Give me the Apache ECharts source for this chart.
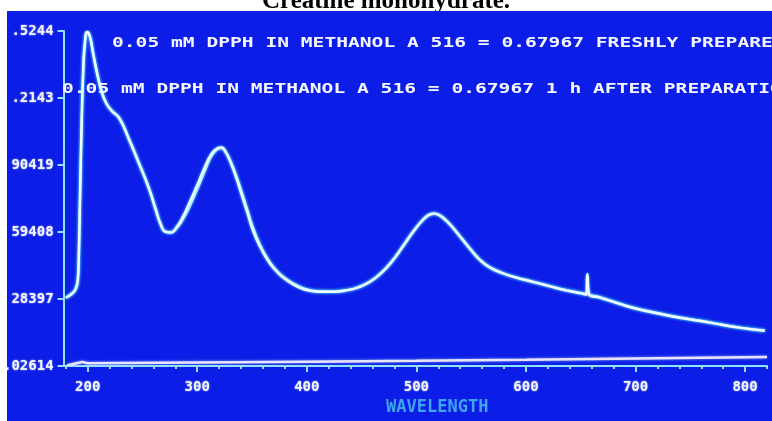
<!DOCTYPE html>
<html>
<head>
<meta charset="utf-8">
<script src="https://cdn.jsdelivr.net/npm/echarts@6/dist/echarts.min.js"></script>
<style>
  html, body { margin: 0; padding: 0; background: #ffffff; }
  #chart { width: 772px; height: 421px; }
</style>
</head>
<body>
<div id="chart"></div>
<script>
// Absorption spectra of DPPH in methanol (wavelength in nm, absorbance)
const wavelength = [180, 186, 189, 191, 192, 193, 194.5, 196, 197.5, 199.5, 202, 205, 209, 213, 217, 222, 229, 238, 247, 256, 262, 267, 271, 276, 281, 287, 293, 300, 307, 313, 318, 322, 326, 331, 336, 341, 346, 351, 357, 363, 370, 378, 388, 398, 410, 423, 435, 447, 458, 468, 478, 488, 497, 505, 511, 516, 521, 527, 534, 542, 550, 558, 567, 578, 590, 605, 620, 635, 650, 655, 656, 658, 668, 683, 698, 713, 727, 743, 759, 773, 786, 800, 812, 818];
const freshlyPrepared = [0.29, 0.31, 0.33, 0.37, 0.50, 0.75, 1.10, 1.35, 1.47, 1.52, 1.50, 1.42, 1.32, 1.24, 1.19, 1.155, 1.12, 1.02, 0.91, 0.795, 0.70, 0.625, 0.595, 0.592, 0.615, 0.665, 0.73, 0.81, 0.895, 0.955, 0.980, 0.985, 0.965, 0.91, 0.84, 0.76, 0.68, 0.60, 0.53, 0.475, 0.425, 0.385, 0.35, 0.328, 0.318, 0.317, 0.323, 0.338, 0.365, 0.405, 0.46, 0.53, 0.595, 0.645, 0.672, 0.68, 0.672, 0.648, 0.61, 0.56, 0.51, 0.465, 0.43, 0.405, 0.385, 0.365, 0.345, 0.325, 0.31, 0.305, 0.40, 0.302, 0.29, 0.265, 0.242, 0.225, 0.21, 0.195, 0.182, 0.17, 0.158, 0.148, 0.14, 0.137];
const oneHourAfter = [0.29, 0.31, 0.33, 0.37, 0.50, 0.75, 1.10, 1.35, 1.47, 1.52, 1.50, 1.42, 1.32, 1.24, 1.19, 1.155, 1.12, 1.02, 0.91, 0.795, 0.70, 0.625, 0.595, 0.592, 0.610, 0.652, 0.71, 0.79, 0.875, 0.945, 0.975, 0.982, 0.962, 0.915, 0.85, 0.775, 0.695, 0.615, 0.54, 0.482, 0.43, 0.39, 0.356, 0.333, 0.321, 0.319, 0.324, 0.339, 0.366, 0.405, 0.46, 0.53, 0.595, 0.645, 0.672, 0.68, 0.672, 0.648, 0.61, 0.56, 0.51, 0.465, 0.43, 0.405, 0.385, 0.365, 0.347, 0.328, 0.313, 0.307, 0.306, 0.304, 0.292, 0.268, 0.245, 0.227, 0.212, 0.197, 0.184, 0.171, 0.159, 0.149, 0.141, 0.138];
const blankWavelength = [181, 190, 195, 200, 300, 400, 500, 600, 700, 820];
const blankAbs = [-0.024, -0.013, -0.008, -0.013, -0.010, -0.006, -0.002, 0.003, 0.009, 0.015];

// Axis ticks
const yTickValues = [-0.02614, 0.28397, 0.59408, 0.90419, 1.2143, 1.5244];
const yTickText = ['.02614', '28397', '59408', '90419', '.2143', '.5244'];
const xMajorTicks = [200, 300, 400, 500, 600, 700, 800];
const xMinorTicks = [180, 200, 220, 240, 260, 280, 300, 320, 340, 360, 380, 400, 420, 440, 460, 480, 500, 520, 540, 560, 580, 600, 620, 640, 660, 680, 700, 720, 740, 760, 780, 800, 820];

// Screen annotations
const titleText = 'Creatine monohydrate.';
const noteFresh = '0.05 mM DPPH IN METHANOL A 516 = 0.67967 FRESHLY PREPARED';
const noteAged = '0.05 mM DPPH IN METHANOL A 516 = 0.67967 1 h AFTER PREPARATION';
const axisTitle = 'WAVELENGTH';

const pairs = (xs, ys) => xs.map((x, i) => [x, ys[i]]);

const AXIS = '#8fe4f4';
const LABEL = '#f2f5ff';
const MONO = '"DejaVu Sans Mono", "Liberation Mono", monospace';

const chart = echarts.init(document.getElementById('chart'), null, { renderer: 'canvas' });

chart.setOption({
  backgroundColor: '#ffffff',
  animation: false,
  grid: { left: 61, right: 5, top: 31, bottom: 46, containLabel: false },
  xAxis: [
    {
      type: 'value', min: 178, max: 820,
      axisLine: { onZero: false, lineStyle: { color: AXIS, width: 2 } },
      axisTick: { customValues: xMajorTicks, length: 6, lineStyle: { color: AXIS, width: 2 } },
      axisLabel: {
        customValues: xMajorTicks, margin: 14,
        color: LABEL, fontFamily: MONO, fontWeight: 'bold', fontSize: 14,
        textShadowBlur: 2, textShadowColor: 'rgba(220,230,255,0.8)'
      },
      splitLine: { show: false },
      name: axisTitle, nameLocation: 'middle', nameGap: 33,
      nameTextStyle: { color: '#3fa6f2', fontFamily: MONO, fontWeight: 'bold', fontSize: 17, padding: [0, 0, 0, 44] }
    },
    {
      type: 'value', min: 178, max: 820, position: 'bottom',
      axisLine: { show: false, onZero: false },
      axisTick: { customValues: xMinorTicks, length: 3, lineStyle: { color: AXIS, width: 2 } },
      axisLabel: { show: false },
      splitLine: { show: false }
    }
  ],
  yAxis: {
    type: 'value', min: -0.02614, max: 1.5244,
    axisLine: { show: true, lineStyle: { color: AXIS, width: 2 } },
    axisTick: { show: true, customValues: yTickValues, length: 6, lineStyle: { color: AXIS, width: 2 } },
    axisLabel: {
      customValues: yTickValues, margin: 10,
      color: LABEL, fontFamily: MONO, fontWeight: 'bold', fontSize: 14,
      textShadowBlur: 2, textShadowColor: 'rgba(220,230,255,0.8)',
      formatter: (v) => {
        const i = yTickValues.findIndex(t => Math.abs(t - v) < 1e-4);
        return i >= 0 ? yTickText[i] : '';
      }
    },
    splitLine: { show: false }
  },
  graphic: [
    {
      type: 'text', z: -20, x: 386, y: 2,
      style: {
        text: titleText, fill: '#000000', align: 'center', verticalAlign: 'middle',
        font: 'bold 25px "Liberation Serif", "Times New Roman", serif'
      }
    },
    {
      type: 'rect', z: -10,
      shape: { x: 7, y: 11, width: 765, height: 410 },
      style: { fill: '#0b1de6' }
    },
    {
      type: 'text', z: 5, x: 112, y: 43, scaleX: 1.4,
      style: {
        text: noteFresh, fill: '#f4f7ff', verticalAlign: 'middle',
        font: 'bold 14px ' + MONO, shadowBlur: 3, shadowColor: 'rgba(210,225,255,0.8)'
      }
    },
    {
      type: 'text', z: 5, x: 62, y: 89, scaleX: 1.4,
      style: {
        text: noteAged, fill: '#f4f7ff', verticalAlign: 'middle',
        font: 'bold 14px ' + MONO, shadowBlur: 3, shadowColor: 'rgba(210,225,255,0.8)'
      }
    }
  ],
  series: [
    {
      name: 'blank', type: 'line', xAxisIndex: 0, data: pairs(blankWavelength, blankAbs),
      showSymbol: false, symbol: 'none', smooth: false,
      lineStyle: { color: '#e8e4ff', width: 2.5, shadowBlur: 3, shadowColor: 'rgba(160,200,255,0.8)' }
    },
    {
      name: '1 h after preparation', type: 'line', xAxisIndex: 0, data: pairs(wavelength, oneHourAfter),
      showSymbol: false, symbol: 'none', smooth: 0.5,
      lineStyle: { color: '#c6f3ff', width: 2, shadowBlur: 3, shadowColor: 'rgba(90,230,255,0.9)' }
    },
    {
      name: 'freshly prepared', type: 'line', xAxisIndex: 0, data: pairs(wavelength, freshlyPrepared),
      showSymbol: false, symbol: 'none', smooth: 0.5,
      lineStyle: { color: '#effcff', width: 2.5, shadowBlur: 3, shadowColor: 'rgba(90,230,255,0.9)' }
    }
  ]
});
</script>
</body>
</html>
